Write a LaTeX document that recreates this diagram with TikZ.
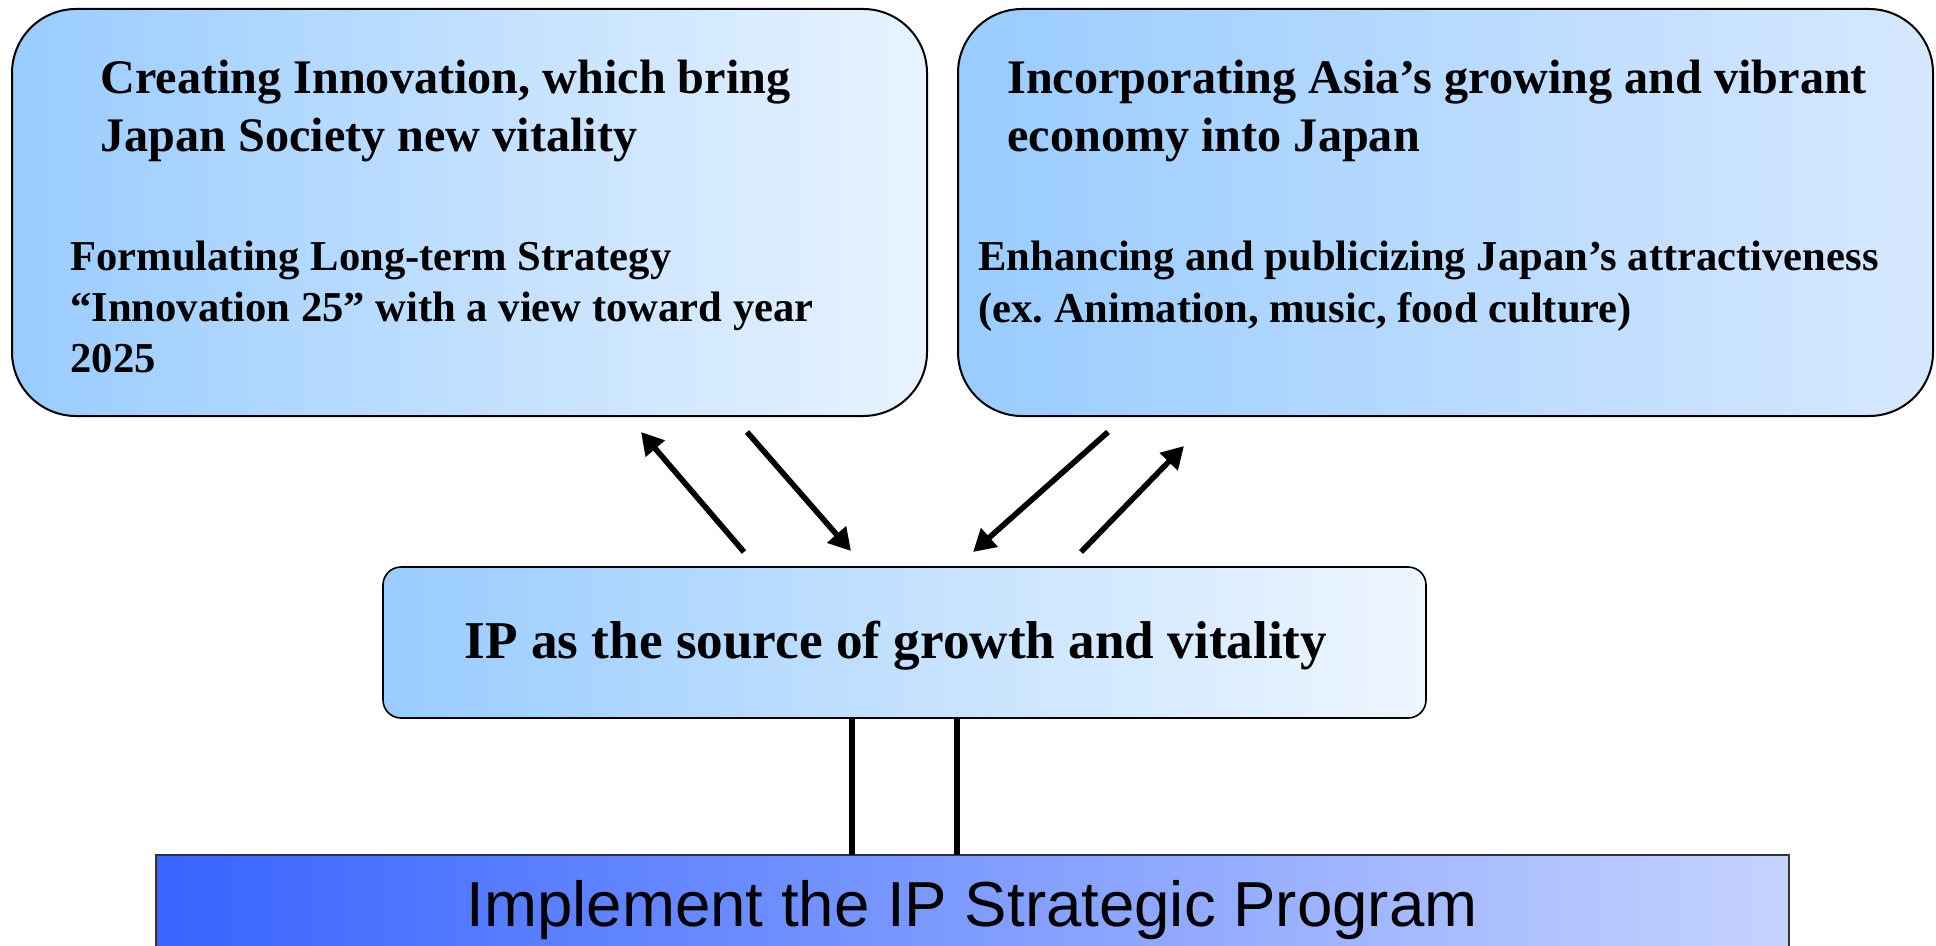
\documentclass[tikz,border=0pt]{standalone}
\usepackage{fontspec}
\setmainfont{Liberation Serif}
\newfontfamily\arialfont{Liberation Sans}
\usetikzlibrary{arrows.meta}
\frenchspacing
\definecolor{skyA}{RGB}{153,204,255}
\definecolor{skyB}{RGB}{232,243,255}
\definecolor{skyC}{RGB}{214,232,255}
\definecolor{skyD}{RGB}{238,246,255}
\definecolor{progA}{RGB}{56,100,255}
\definecolor{progB}{RGB}{197,211,255}
\begin{document}
\begin{tikzpicture}[x=0.5pt,y=-0.5pt,
  bigbox/.style={draw=black, line width=1pt, rounded corners=32pt, inner sep=0pt, left color=skyA},
  midbox/.style={draw=black, line width=0.8pt, rounded corners=9pt, inner sep=0pt, left color=skyA, right color=skyD},
  progbox/.style={inner sep=0pt, left color=progA, right color=progB},
  ttl/.style={anchor=base west, inner sep=0pt, align=left, font=\bfseries\fontsize{24.1}{29}\selectfont},
  sub/.style={anchor=base west, inner sep=0pt, align=left, font=\bfseries\fontsize{21.3}{25.5}\selectfont},
  midtxt/.style={anchor=base, inner sep=0pt, font=\bfseries\fontsize{26.6}{32}\selectfont},
  progtxt/.style={anchor=base, inner sep=0pt, font=\arialfont\fontsize{31.8}{38}\selectfont},
  arr/.style={line width=2.8pt, -{Triangle[length=11pt,width=12pt]}},
  vline/.style={line width=2.6pt}
]
\useasboundingbox (0,0) rectangle (1936,946);
\fill[white] (0,0) rectangle (1936,946);

% top left box
\node[bigbox, right color=skyB, minimum width=457.5pt, minimum height=203.5pt] (L) at (469.5,212.5) {};
\node[ttl] (Lt) at (100,152) {Creating Innovation, which bring\\Japan Society new vitality};
\node[sub] (Ls) at (70,372) {Formulating Long-term Strategy\\“Innovation 25” with a view toward year\\2025};

% top right box
\node[bigbox, right color=skyC, minimum width=487.5pt, minimum height=203.5pt] (R) at (1445.5,212.5) {};
\node[ttl] (Rt) at (1007,152) {Incorporating Asia’s growing and vibrant\\economy into Japan};
\node[sub] (Rs) at (978,322) {Enhancing and publicizing Japan’s attractiveness\\(ex. Animation, music, food culture)};

% middle box
\node[midbox, minimum width=521.5pt, minimum height=75.5pt] (M) at (904.5,642.5) {};
\node[midtxt] (Mt) at (896,658) {IP as the source of growth and vitality};

% bottom program bar
\node[progbox, minimum width=816.5pt, minimum height=45.5pt] (P) at (972.5,900.5) {};
\draw[line width=1pt, black!80] (P.south west) |- (P.north east) -- (P.south east);
\node[progtxt] (Pt) at (972,926) {Implement the IP Strategic Program};

% arrows
\coordinate (a1s) at (744,552); \coordinate (a1e) at (641,432);
\coordinate (a2s) at (747,432); \coordinate (a2e) at (851,551);
\coordinate (a3s) at (1108,432); \coordinate (a3e) at (973,552);
\coordinate (a4s) at (1081,552); \coordinate (a4e) at (1184,446);
\draw[arr] (a1s) -- (a1e);
\draw[arr] (a2s) -- (a2e);
\draw[arr] (a3s) -- (a3e);
\draw[arr] (a4s) -- (a4e);

% vertical connectors
\coordinate (v1) at (852,780);
\coordinate (v2) at (957,780);
\draw[vline] (M.south -| v1) -- (P.north -| v1);
\draw[vline] (M.south -| v2) -- (P.north -| v2);
\end{tikzpicture}
\end{document}
